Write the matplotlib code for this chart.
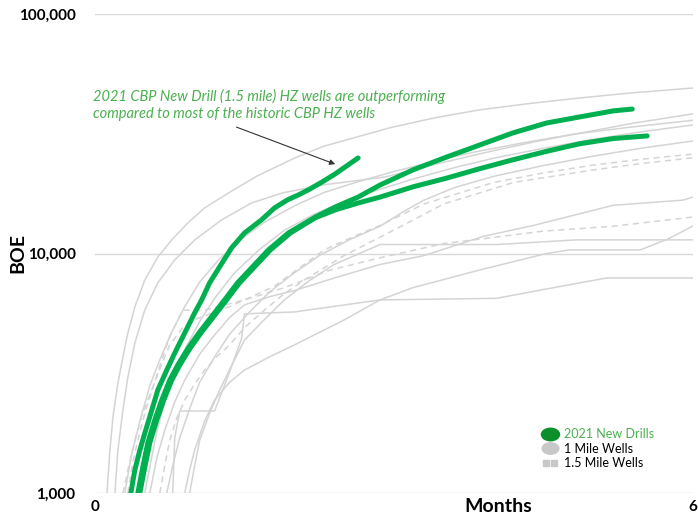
import matplotlib
matplotlib.use("Agg")
import matplotlib.pyplot as plt
from matplotlib.lines import Line2D
from matplotlib.legend_handler import HandlerLine2D
from matplotlib.path import Path
from matplotlib.ticker import FixedLocator, FuncFormatter, NullLocator

plt.rcParams['font.family'] = ['Lato', 'DejaVu Sans']

# 2021 new drills (months, cumulative BOE)
new_a_months = [0.36, 0.40, 0.45, 0.50, 0.57, 0.63, 0.72, 0.80, 0.88, 0.95, 1.00, 1.07, 1.15,
                1.25, 1.37, 1.50, 1.67, 1.80, 1.93, 2.04, 2.14, 2.28, 2.41, 2.54, 2.64]
new_a_boe = [1000, 1250, 1510, 1780, 2220, 2690, 3260, 3840, 4480, 5130, 5650, 6400, 7540,
             8790, 10550, 12180, 13810, 15480, 16740, 17550, 18430, 19900, 21500, 23440, 25060]

new_b_months = [0.43, 0.48, 0.53, 0.60, 0.67, 0.75, 0.83, 0.93, 1.05, 1.17, 1.30, 1.43, 1.58,
                1.74, 1.94, 2.21, 2.41, 2.64, 2.86, 3.19, 3.53, 3.86, 4.19, 4.53, 4.86, 5.20, 5.39]
new_b_boe = [1000, 1285, 1620, 2020, 2445, 2960, 3420, 4000, 4700, 5450, 6400, 7540, 8790,
             10350, 12180, 14190, 15630, 17200, 19320, 22340, 25300, 28380, 31850, 35060, 37150,
             39400, 40100]

new_c_months = [0.45, 0.50, 0.55, 0.62, 0.69, 0.77, 0.85, 0.95, 1.07, 1.19, 1.32, 1.45, 1.60,
                1.76, 1.96, 2.21, 2.41, 2.64, 2.86, 3.19, 3.53, 3.86, 4.19, 4.53, 4.86, 5.20, 5.54]
new_c_boe = [1000, 1285, 1620, 2020, 2445, 2960, 3420, 4000, 4700, 5450, 6400, 7540, 8790,
             10350, 12180, 14100, 15200, 16250, 17200, 18980, 20650, 22600, 24600, 26700, 28700,
             30200, 30970]

# historic 1 mile wells
one_mile = [
    ([0.12, 0.15, 0.18, 0.23, 0.28, 0.33, 0.40, 0.50, 0.63, 0.77, 0.93, 1.10, 1.33, 1.62, 2.00,
      2.29, 2.96, 3.40, 3.86, 4.36, 4.86, 5.40, 6.0],
     [1000, 1510, 2075, 2880, 3700, 4660, 5985, 7750, 9660, 11400, 13400, 15500, 17800, 21000,
      25000, 28000, 33500, 36800, 39800, 42300, 44600, 46900, 49100]),
    ([0.20, 0.23, 0.28, 0.33, 0.40, 0.50, 0.63, 0.80, 1.00, 1.27, 1.57, 1.88, 2.28, 2.91, 3.40,
      3.90, 4.40, 4.90, 5.40, 6.0],
     [1000, 1510, 2220, 3050, 4230, 5810, 7540, 9400, 11390, 13810, 16250, 17900, 19320, 20860,
      23500, 26300, 29200, 32000, 35000, 38300]),
    ([0.30, 0.36, 0.45, 0.55, 0.65, 0.77, 0.90, 1.05, 1.25, 1.47, 1.70, 2.00, 2.30, 2.65, 3.00,
      3.40, 3.80, 4.30, 4.80, 5.40, 6.0],
     [1000, 1400, 2000, 2800, 3600, 4700, 6000, 7600, 9500, 11500, 13500, 15800, 18000, 20000,
      22000, 24200, 26500, 29000, 31500, 33800, 36000]),
    ([0.50, 0.56, 0.62, 0.70, 0.80, 0.92, 1.05, 1.20, 1.40, 1.65, 1.90, 2.20, 2.50, 2.85, 3.20,
      3.60, 4.00, 4.50, 5.00, 5.50, 6.0],
     [1000, 1350, 1800, 2400, 3100, 4100, 5200, 6500, 8300, 10400, 12500, 14600, 16500, 18500,
      20500, 22800, 25000, 27500, 30000, 32300, 34400]),
    ([0.72, 0.78, 0.85, 0.95, 1.05, 1.20, 1.35, 1.55, 1.75, 2.00, 2.25, 2.55, 2.86, 3.10, 3.30,
      3.60, 4.00, 4.50, 5.00, 5.50, 6.0],
     [1000, 1300, 1700, 2250, 2900, 3700, 4600, 5700, 6900, 8300, 9800, 11400, 13000, 15000,
      16700, 18800, 21000, 23300, 25500, 27600, 29500]),
    ([0.55, 0.62, 0.70, 0.80, 0.90, 1.05, 1.20, 1.35, 1.50, 1.75, 2.00, 2.40, 2.86, 3.30, 3.90,
      4.40, 5.20, 5.90, 6.0],
     [1000, 1400, 1830, 2400, 2960, 3800, 4570, 5400, 6100, 6600, 7000, 7900, 9000, 9800, 11800,
      13100, 15900, 16700, 17200]),
    ([0.90, 0.95, 1.00, 1.10, 1.20, 1.35, 1.50, 1.75, 2.00, 2.50, 2.86, 3.19, 3.86, 4.53, 4.76,
      5.47, 5.75, 6.0],
     [1000, 1250, 1510, 2000, 2445, 2900, 3260, 3700, 4150, 5280, 6400, 7200, 8535, 10000, 10350,
      10350, 11500, 13030]),
    ([0.78, 0.80, 0.85, 1.20, 1.35, 1.47, 1.50, 2.00, 2.86, 4.03, 4.60, 5.13, 6.0],
     [1000, 1700, 2200, 2200, 3200, 4400, 5600, 5700, 6400, 6500, 7200, 7900, 7900]),
    ([0.95, 1.00, 1.05, 1.15, 1.25, 1.37, 1.50, 1.70, 1.90, 2.15, 2.40, 2.86, 4.03, 4.83, 6.0],
     [1000, 1300, 1660, 2150, 2690, 3400, 4350, 5300, 6400, 7700, 9000, 10900, 10900, 11400,
      11400]),
]

# historic 1.5 mile wells
one_half_mile = [
    ([0.28, 0.34, 0.40, 0.47, 0.55, 0.65, 0.75, 0.88, 1.00, 1.35, 1.80, 2.05, 2.30, 2.60, 2.86,
      3.30, 4.00, 4.50, 5.00, 5.50, 6.0],
     [1000, 1300, 1660, 2100, 2570, 3300, 4150, 4900, 5300, 6000, 7300, 8700, 10350, 11800, 13100,
      16100, 19800, 21700, 23400, 24800, 26000]),
    ([0.65, 0.70, 0.75, 0.82, 0.90, 1.00, 1.10, 1.22, 1.35, 1.50, 1.70, 1.90, 2.10, 2.50, 3.00,
      3.50, 4.20, 5.00, 5.50, 6.0],
     [1000, 1300, 1660, 2050, 2440, 2850, 3260, 3700, 4150, 4900, 5800, 6800, 7750, 9800, 12540,
      16100, 19800, 22340, 23800, 25100]),
    ([0.33, 0.38, 0.45, 0.52, 0.60, 0.67, 0.75, 0.88, 1.10, 1.50, 1.90, 2.35, 2.86, 3.50, 4.50,
      5.20, 6.0],
     [1000, 1350, 1800, 2300, 2900, 3600, 4500, 5800, 5800, 6400, 7200, 8500, 9600, 11000, 12400,
      13000, 14200]),
]

y_ticks = [1000, 10000, 100000]
x_ticks = [0, 6]

green = '#00b050'
gray = '#d4d4d4'

fig = plt.figure(figsize=(6.98, 5.2), dpi=100)
ax = fig.add_axes([95 / 698, 1 - 493 / 520, 598 / 698, 479 / 520])

for m, b in one_mile:
    ax.plot(m, b, color=gray, lw=1.1, zorder=2)
for m, b in one_half_mile:
    ax.plot(m, b, color=gray, lw=1.1, ls=(0, (4, 3)), zorder=2)

for m, b in [(new_a_months, new_a_boe), (new_b_months, new_b_boe), (new_c_months, new_c_boe)]:
    ax.plot(m, b, color=green, lw=3.6, solid_capstyle='round', solid_joinstyle='round', zorder=3)

ax.set_yscale('log')
ax.set_xlim(0, 6)
ax.set_ylim(1000, 100000)
ax.yaxis.set_major_locator(FixedLocator(y_ticks))
ax.yaxis.set_minor_locator(NullLocator())
ax.yaxis.set_major_formatter(FuncFormatter(lambda v, p: f"{int(v):,}"))
ax.set_xticks(x_ticks)
ax.grid(axis='y', color='#d9d9d9', lw=1)
ax.set_axisbelow(True)
for s in ax.spines.values():
    s.set_visible(False)
ax.tick_params(length=0, labelsize=11, pad=14)
ax.tick_params(axis='x', pad=5)
for lbl in ax.get_xticklabels() + ax.get_yticklabels():
    lbl.set_fontweight('bold')

fig.text(498 / 698, 1 - 507 / 520, 'Months', ha='center', va='center',
         fontsize=14, fontweight='bold')
fig.text(18 / 698, 1 - 253 / 520, 'BOE', ha='center', va='center', rotation=90,
         fontsize=14, fontweight='bold')

ax.text(-0.02, 41700,
        '2021 CBP New Drill (1.5 mile) HZ wells are outperforming\n'
        'compared to most of the historic CBP HZ wells',
        ha='left', va='center', fontsize=10.5, style='italic', color='#4caf50',
        linespacing=1.3)
ax.annotate('', xy=(2.41, 23600), xytext=(1.42, 33700),
            arrowprops=dict(arrowstyle='-|>', color='#333333', lw=0.8,
                            mutation_scale=8, shrinkA=0, shrinkB=0))

ellipse = Path(Path.unit_circle().vertices * [1.45, 1.0], Path.unit_circle().codes)
h1 = Line2D([], [], ls='None', marker=ellipse, markersize=13, color='#0a8f2a')
h2 = Line2D([], [], ls='None', marker=ellipse, markersize=12, color='#c8c8c8')
h3 = Line2D([], [], ls='None', marker='s', markersize=5, color='#c8c8c8')
leg = ax.legend([h1, h2, h3], ['2021 New Drills', '1 Mile Wells', '1.5 Mile Wells'],
                loc='upper left', bbox_to_anchor=(531 / 698, 1 - 417 / 520),
                bbox_transform=fig.transFigure, frameon=False, fontsize=9,
                handlelength=1.2, handletextpad=0.5, labelspacing=0.2,
                handler_map={h3: HandlerLine2D(numpoints=2)})
leg.get_texts()[0].set_color('#4caf50')

fig.savefig('out.png', dpi=100)
